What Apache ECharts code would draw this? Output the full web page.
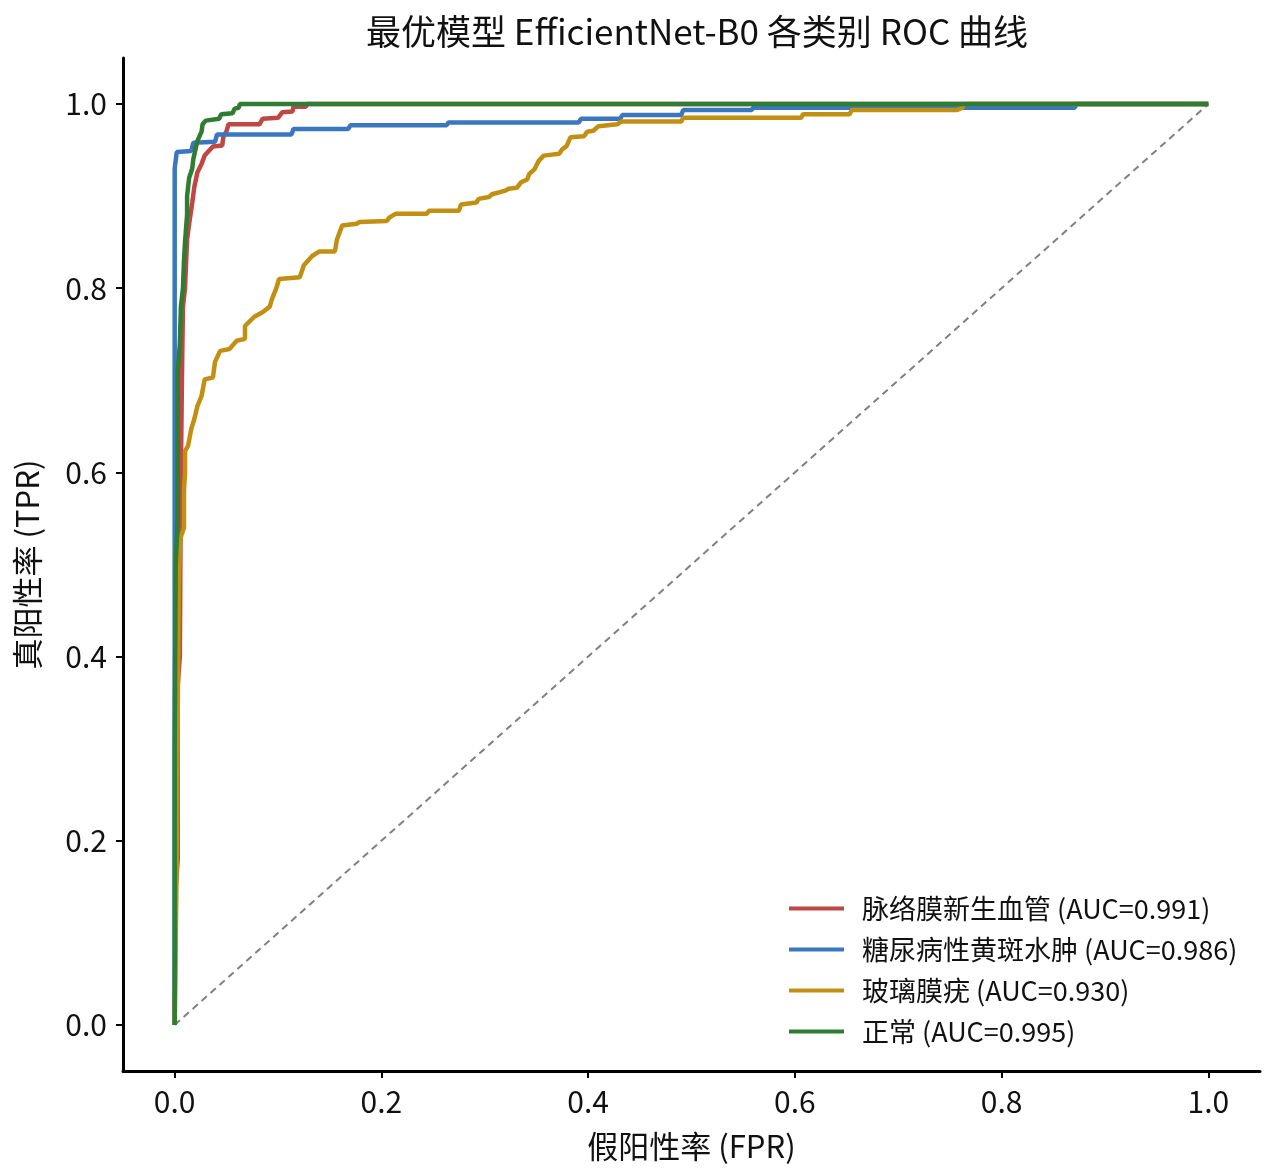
<!DOCTYPE html>
<html>
<head>
<meta charset="utf-8">
<script src="https://cdn.jsdelivr.net/npm/echarts@6/dist/echarts.min.js"></script>
<style>
  html, body { margin: 0; padding: 0; background: #fff; }
  #graph { width: 1280px; height: 1176px; }
</style>
</head>
<body>
<div id="graph"></div>
<script>
// class names and AUC values from the legend
var classNames = ['脉络膜新生血管', '糖尿病性黄斑水肿', '玻璃膜疣', '正常'];
var aucValues = ['0.991', '0.986', '0.930', '0.995'];
var lineColors = ['#bd4844', '#3a77be', '#c18f12', '#2e7d32'];

// tick values for both axes
var tickValues = [0, 0.2, 0.4, 0.6, 0.8, 1.0];

// ROC points [FPR, TPR]
var rocCnv = [[0,0],[0.001,0.15],[0.003,0.18],[0.003,0.37],[0.005,0.40],[0.006,0.60],[0.007,0.70],[0.008,0.78],
  [0.010,0.80],[0.012,0.853],[0.014,0.87],[0.017,0.893],[0.019,0.91],[0.022,0.926],[0.026,0.935],[0.029,0.944],
  [0.037,0.954],[0.046,0.955],[0.047,0.964],[0.050,0.970],[0.052,0.978],[0.082,0.978],[0.085,0.984],[0.100,0.985],
  [0.104,0.991],[0.114,0.992],[0.115,0.997],[0.127,0.997],[0.128,1.0],[1,1]];

var rocDme = [[0,0],[0,0.93],[0.002,0.948],[0.016,0.949],[0.018,0.958],[0.039,0.959],[0.041,0.967],[0.113,0.967],
  [0.115,0.973],[0.168,0.973],[0.170,0.977],[0.263,0.977],[0.265,0.980],[0.391,0.980],[0.393,0.984],[0.431,0.984],
  [0.433,0.988],[0.490,0.988],[0.492,0.9935],[0.558,0.9935],[0.560,0.996],[0.871,0.996],[0.872,1.0],[1,1]];

var rocDrusen = [[0,0],[0.002,0.18],[0.003,0.35],[0.004,0.47],[0.005,0.52],[0.006,0.53],[0.009,0.54],[0.009,0.58],
  [0.010,0.60],[0.010,0.623],[0.013,0.629],[0.016,0.647],[0.019,0.658],[0.022,0.672],[0.026,0.683],[0.029,0.701],
  [0.037,0.703],[0.039,0.72],[0.044,0.732],[0.053,0.734],[0.060,0.743],[0.068,0.745],[0.068,0.759],[0.077,0.769],
  [0.085,0.774],[0.092,0.78],[0.094,0.788],[0.098,0.799],[0.101,0.81],[0.121,0.812],[0.125,0.825],[0.133,0.835],
  [0.140,0.84],[0.155,0.84],[0.157,0.853],[0.162,0.868],[0.176,0.87],[0.179,0.872],[0.205,0.873],[0.208,0.877],
  [0.214,0.881],[0.244,0.881],[0.246,0.884],[0.275,0.884],[0.277,0.891],[0.292,0.893],[0.294,0.897],[0.304,0.899],
  [0.307,0.902],[0.320,0.906],[0.323,0.908],[0.331,0.909],[0.335,0.915],[0.341,0.918],[0.343,0.924],[0.348,0.929],
  [0.352,0.938],[0.357,0.944],[0.372,0.946],[0.375,0.951],[0.379,0.954],[0.383,0.964],[0.396,0.965],[0.399,0.970],
  [0.405,0.971],[0.410,0.976],[0.428,0.978],[0.432,0.981],[0.490,0.981],[0.492,0.985],[0.606,0.985],[0.608,0.989],
  [0.653,0.989],[0.655,0.9935],[0.757,0.9935],[0.762,0.996],[0.764,1.0],[1,1]];

var rocNormal = [[0,0],[0,0.30],[0.001,0.50],[0.003,0.55],[0.003,0.71],[0.005,0.74],[0.006,0.78],[0.008,0.80],
  [0.009,0.83],[0.010,0.85],[0.012,0.88],[0.012,0.90],[0.014,0.92],[0.017,0.93],[0.018,0.94],[0.020,0.95],
  [0.022,0.96],[0.026,0.97],[0.027,0.978],[0.030,0.982],[0.043,0.984],[0.045,0.989],[0.056,0.990],[0.058,0.995],
  [0.062,0.996],[0.063,1.0],[1,1]];

var chanceLine = [[0,0],[1,1]];

var rocData = [rocCnv, rocDme, rocDrusen, rocNormal];

var fontName = '"Noto Sans CJK SC", "Noto Sans", sans-serif';

var chart = echarts.init(document.getElementById('graph'));

// legend names "class (AUC=x)"
var legendNames = classNames.map(function (n, i) { return n + ' (AUC=' + aucValues[i] + ')'; });

// series: the diagonal first, then one line per class
var series = [{
    name: 'chance',
    type: 'line',
    data: chanceLine,
    symbol: 'none',
    silent: true,
    lineStyle: { color: '#808080', width: 2, type: [7, 5] },
    z: 1
}];
for (var i = 0; i < rocData.length; i++) {
    series.push({
        name: legendNames[i],
        type: 'line',
        data: rocData[i],
        symbol: 'none',
        lineStyle: { color: lineColors[i], width: 4.5 },
        itemStyle: { color: lineColors[i] },
        z: 2 + i
    });
}

var option = {
    animation: false,
    backgroundColor: '#ffffff',
    textStyle: { fontFamily: fontName },
    title: {
        text: '最优模型 EfficientNet-B0 各类别 ROC 曲线',
        left: 692,
        top: 9,
        textAlign: 'center',
        textStyle: { fontFamily: fontName, fontSize: 35, fontWeight: 'normal', color: '#111' }
    },
    legend: {
        data: legendNames,
        orient: 'vertical',
        left: 784,
        top: 890,
        icon: 'rect',
        itemWidth: 55,
        itemHeight: 4,
        itemGap: 14,
        textStyle: { fontFamily: fontName, fontSize: 27, color: '#111', padding: [0, 0, 0, 13] }
    },
    grid: {
        left: 123,
        right: 20,
        top: 58,
        bottom: 105
    },
    xAxis: {
        type: 'value',
        min: -0.05,
        max: 1.05,
        name: '假阳性率 (FPR)',
        nameLocation: 'middle',
        nameGap: 60,
        nameTextStyle: { fontFamily: fontName, fontSize: 31, color: '#111' },
        axisLine: { onZero: false, lineStyle: { color: '#000', width: 3 } },
        axisTick: { customValues: tickValues, length: 7, lineStyle: { color: '#000', width: 2 } },
        axisLabel: {
            customValues: tickValues,
            margin: 16,
            fontSize: 30,
            color: '#111',
            formatter: function (v) { return v.toFixed(1); }
        },
        splitLine: { show: false }
    },
    yAxis: {
        type: 'value',
        min: -0.05,
        max: 1.05,
        name: '真阳性率 (TPR)',
        nameLocation: 'middle',
        nameGap: 80,
        nameTextStyle: { fontFamily: fontName, fontSize: 31, color: '#111' },
        axisLine: { show: true, onZero: false, lineStyle: { color: '#000', width: 3 } },
        axisTick: { show: true, customValues: tickValues, length: 7, lineStyle: { color: '#000', width: 2 } },
        axisLabel: {
            customValues: tickValues,
            margin: 16,
            fontSize: 30,
            color: '#111',
            formatter: function (v) { return v.toFixed(1); }
        },
        splitLine: { show: false }
    },
    series: series
};

chart.setOption(option);
</script>
</body>
</html>
